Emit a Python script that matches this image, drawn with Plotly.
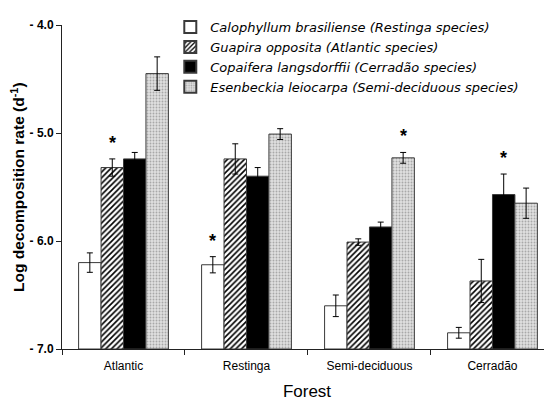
import plotly.graph_objects as go

forests = ["Atlantic", "Restinga", "Semi-deciduous", "Cerradão"]
species = [
    "Calophyllum brasiliense (Restinga species)",
    "Guapira opposita (Atlantic species)",
    "Copaifera langsdorffii (Cerradão species)",
    "Esenbeckia leiocarpa (Semi-deciduous species)",
]
calophyllum = [-6.20, -6.22, -6.60, -6.85]
calophyllum_err = [0.09, 0.075, 0.10, 0.05]
guapira = [-5.32, -5.24, -6.01, -6.37]
guapira_err = [0.08, 0.14, 0.03, 0.20]
copaifera = [-5.24, -5.40, -5.87, -5.57]
copaifera_err = [0.06, 0.08, 0.045, 0.19]
esenbeckia = [-4.45, -5.01, -5.23, -5.65]
esenbeckia_err = [0.155, 0.05, 0.05, 0.14]

# significance stars: (forest index, species index)
stars = [(0, 1), (1, 0), (2, 3), (3, 2)]

y_ticks = [-4.0, -5.0, -6.0, -7.0]
y_ticktext = ["- 4.0", "- 5.0", "- 6.0", "- 7.0"]
base_value = -7.0

values = [calophyllum, guapira, copaifera, esenbeckia]
errors = [calophyllum_err, guapira_err, copaifera_err, esenbeckia_err]

styles = [
    dict(color="white", pattern=dict(shape="")),
    dict(color="white", pattern=dict(shape="/", fgcolor="black", bgcolor="white",
                                     size=4, solidity=0.4, fillmode="replace")),
    dict(color="black", pattern=dict(shape="")),
    dict(color="#d6d6d6", pattern=dict(shape=".", fgcolor="#a8a8a8", bgcolor="#e0e0e0",
                                       size=3, solidity=0.3, fillmode="replace")),
]

fig = go.Figure()
for name, vals, errs, st in zip(species, values, errors, styles):
    fig.add_trace(go.Bar(
        x=forests,
        y=[v - base_value for v in vals],
        base=base_value,
        name=name,
        marker=dict(color=st["color"], pattern=st["pattern"],
                    line=dict(color="#3a3a3a", width=1)),
        error_y=dict(type="data", array=errs, color="black", thickness=1, width=3),
    ))

group_width = 0.73
n = len(species)
for fi, si in stars:
    xpos = fi + (-(n - 1) / 2 + si) * group_width / n
    top = values[si][fi] + errors[si][fi]
    fig.add_annotation(x=xpos, y=top, text="<b>*</b>", showarrow=False,
                       yanchor="bottom", yshift=4,
                       font=dict(family="Liberation Sans", size=18, color="black"))

# y-axis title as a rotated annotation
fig.add_annotation(xref="paper", yref="paper", x=-0.09, y=0.5,
                   xanchor="center", yanchor="middle", textangle=-90, showarrow=False,
                   text="<b>Log decomposition rate (d<sup>-1</sup>)</b>",
                   font=dict(family="Liberation Sans", size=15.5, color="black"))

fig.update_layout(
    width=552, height=400,
    margin=dict(l=54, r=8, t=4, b=59),
    paper_bgcolor="white", plot_bgcolor="white",
    barmode="group", bargap=0.27, bargroupgap=0,
    font=dict(family="Liberation Sans", color="black"),
    showlegend=True,
    legend=dict(x=0.221, y=1.04, xanchor="left", yanchor="top",
                bgcolor="rgba(0,0,0,0)", borderwidth=0,
                font=dict(family="DejaVu Sans", size=13, style="italic"),
                tracegroupgap=0, itemsizing="constant"),
)
fig.update_xaxes(
    range=[-0.5, 3.484], showline=True, linecolor="#222", linewidth=1,
    ticks="outside", tickson="boundaries", ticklen=5, tickcolor="#222",
    tickfont=dict(size=12), ticklabelstandoff=6,
    showgrid=False, zeroline=False, automargin=False,
    title=dict(text="Forest", font=dict(size=17), standoff=12),
)
fig.update_yaxes(
    range=[-7.0, -4.0], tickvals=y_ticks, ticktext=[f"<b>{t}</b>" for t in y_ticktext],
    showline=True, linecolor="#222", linewidth=1,
    ticks="outside", ticklen=5, tickcolor="#222",
    tickfont=dict(size=12), showgrid=False, zeroline=False, automargin=False,
)

fig.write_html("out.html")
